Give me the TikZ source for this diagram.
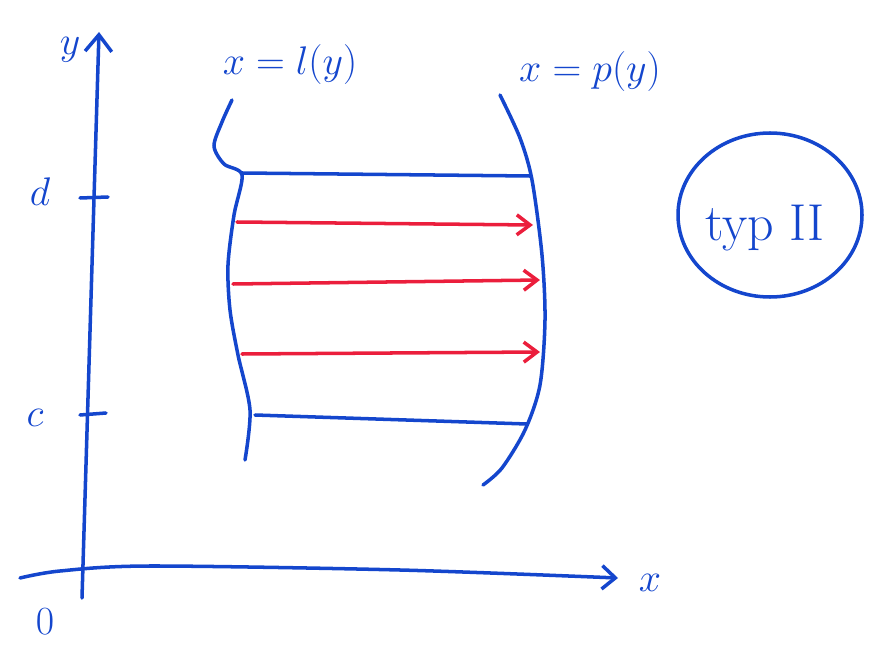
\documentclass[tikz,border=0pt]{standalone}
\usepackage{amsmath}
\usetikzlibrary{arrows.meta}
\definecolor{penblue}{RGB}{20,70,205}
\definecolor{penred}{RGB}{235,30,60}

\begin{document}
\begin{tikzpicture}[x=0.03cm, y=-0.03cm,
    pen/.style={penblue, line width=3pt, line cap=round, line join=round},
    redpen/.style={penred, line width=3pt, line cap=round, -{Straight Barb[length=4mm,width=6mm]}},
    hand/.style={penblue, font=\Huge, scale=1.37, transform shape}]
    \useasboundingbox (0,0) rectangle (890,649);

    % axes
    \draw[pen, -{Straight Barb[length=5mm,width=8mm]}] (82,598) -- (99,32);
    \draw[pen, -{Straight Barb[length=4mm,width=7mm]}] plot[smooth] coordinates {(20,578) (60,571) (150,566) (400,570) (618,578)};

    \draw[pen] (80,198) -- (108,197);
    \draw[pen] (80,415) -- (106,413);

    \node[hand] (ylab) at (70,50) {$y$};
    \node[hand] (xlab) at (650,583) {$x$};
    \node[hand] (olab) at (45,622) {$0$};
    \node[hand] (dlab) at (40,192) {$d$};
    \node[hand] (clab) at (35,418) {$c$};

    % boundary curves
    \draw[pen] plot[smooth] coordinates {(232,100) (222,122) (214,146) (224,164) (242,175) (234,215) (228,265) (230,310) (238,355) (250,410) (245,460)};
    \draw[pen] plot[smooth] coordinates {(500,95) (520,138) (532,180) (542,255) (545,320) (540,385) (525,430) (502,468) (483,485)};

    \node[hand] (llab) at (290,65) {$x=l(y)$};
    \node[hand] (plab) at (590,72) {$x=p(y)$};

    % strips
    \draw[pen] (242,173) -- (530,176);
    \draw[pen] (255,415) -- (527,424);
    \draw[redpen] (237,222) -- (533,225);
    \draw[redpen] (233,284) -- (540,280);
    \draw[redpen] (242,354) -- (540,352);

    % type label
    \draw[pen] (770,215) ellipse [x radius=92, y radius=82];
    \node[hand, scale=1.3] (typ) at (765,228) {typ II};
\end{tikzpicture}
\end{document}
